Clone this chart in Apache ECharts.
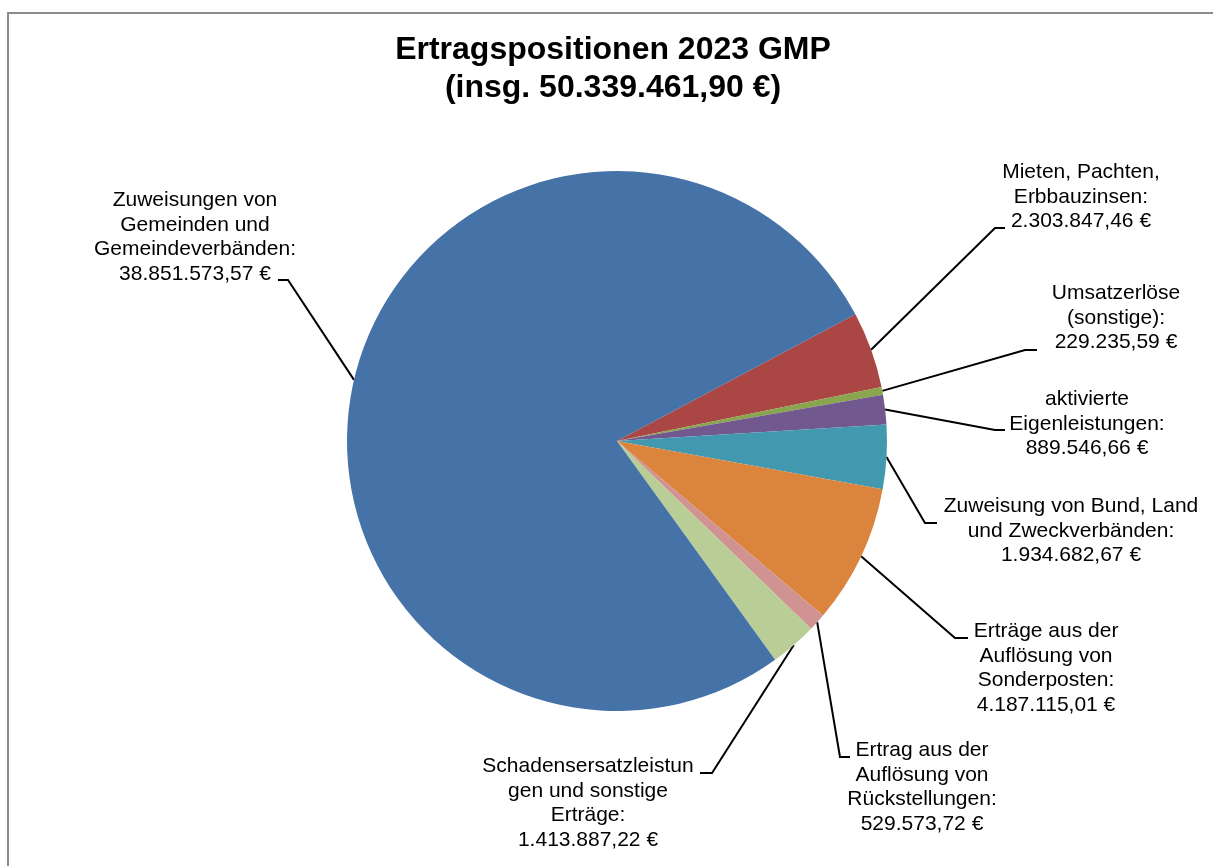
<!DOCTYPE html>
<html>
<head>
<meta charset="utf-8">
<script src="https://cdn.jsdelivr.net/npm/echarts@6/dist/echarts.min.js"></script>
<style>
  html, body { margin: 0; padding: 0; background: #fff; overflow: hidden; }
  .frame {
    position: absolute; left: 7px; top: 12px; width: 1230px; height: 900px;
    border-left: 2px solid #8c8c8c; border-top: 2px solid #8c8c8c;
  }
  #chart { position: absolute; left: 0; top: 0; width: 1213px; height: 866px; }
</style>
</head>
<body>
<div class="frame"></div>
<div id="chart"></div>
<script>
// Ertragspositionen (in Reihenfolge im Uhrzeigersinn ab der Grenze Blau/Rot)
const categories = [
  'Mieten, Pachten,\nErbbauzinsen',
  'Umsatzerlöse\n(sonstige)',
  'aktivierte\nEigenleistungen',
  'Zuweisung von Bund, Land\nund Zweckverbänden',
  'Erträge aus der\nAuflösung von\nSonderposten',
  'Ertrag aus der\nAuflösung von\nRückstellungen',
  'Schadensersatzleistun\ngen und sonstige\nErträge',
  'Zuweisungen von\nGemeinden und\nGemeindeverbänden'
];
const values = [
  2303847.46,
  229235.59,
  889546.66,
  1934682.67,
  4187115.01,
  529573.72,
  1413887.22,
  38851573.57
];
const colors = ['#AA4643', '#89A54E', '#71588F', '#4198AF', '#DB843D', '#D09392', '#B9CD96', '#4572A7'];

// Lage der Beschriftungen (Mitte des Textblocks) und Knickpunkte der Führungslinien
const labelPos = [[1081, 197], [1116, 318], [1087, 424], [1071, 531], [1046, 668], [922, 787], [588, 803], [195, 237]];
const lineBends = [
  [[995, 228], [1005, 228]],
  [[1025, 350], [1037, 350]],
  [[995, 430], [1005, 430]],
  [[925, 523], [937, 523]],
  [[955, 638], [968, 638]],
  [[840, 757], [850, 757]],
  [[712, 773], [700, 773]],
  [[288, 280], [278, 280]]
];

const euro = (v) => {
  const parts = v.toFixed(2).split('.');
  const int = parts[0].replace(/\B(?=(\d{3})+(?!\d))/g, '.');
  return int + ',' + parts[1] + ' €';
};
const total = values.reduce((a, b) => a + b, 0);

const chart = echarts.init(document.getElementById('chart'));
chart.setOption({
  animation: false,
  title: {
    text: 'Ertragspositionen 2023 GMP\n(insg. ' + euro(total) + ')',
    left: 608,
    top: 26,
    textAlign: 'center',
    textStyle: {
      fontFamily: 'Liberation Sans',
      fontSize: 32,
      fontWeight: 'bold',
      color: '#000',
      lineHeight: 38
    }
  },
  series: [
    {
      type: 'pie',
      center: [617, 441],
      radius: 270,
      startAngle: 28,
      clockwise: true,
      avoidLabelOverlap: false,
      minShowLabelAngle: 0,
      itemStyle: { borderWidth: 0 },
      emphasis: { disabled: true },
      label: {
        show: true,
        position: 'outside',
        formatter: (p) => p.name + ':\n' + euro(p.value),
        fontFamily: 'Liberation Sans',
        fontSize: 21,
        lineHeight: 24.5,
        color: '#000',
        align: 'center'
      },
      labelLine: {
        show: true,
        length: 15,
        length2: 15,
        lineStyle: { color: '#000', width: 2 }
      },
      labelLayout: (params) => {
        const i = params.dataIndex;
        const start = params.labelLinePoints[0];
        return {
          x: labelPos[i][0],
          y: labelPos[i][1],
          align: 'center',
          verticalAlign: 'middle',
          labelLinePoints: [start, lineBends[i][0], lineBends[i][1]]
        };
      },
      data: categories.map((name, i) => ({
        name: name,
        value: values[i],
        itemStyle: { color: colors[i] }
      }))
    }
  ]
});
</script>
</body>
</html>
